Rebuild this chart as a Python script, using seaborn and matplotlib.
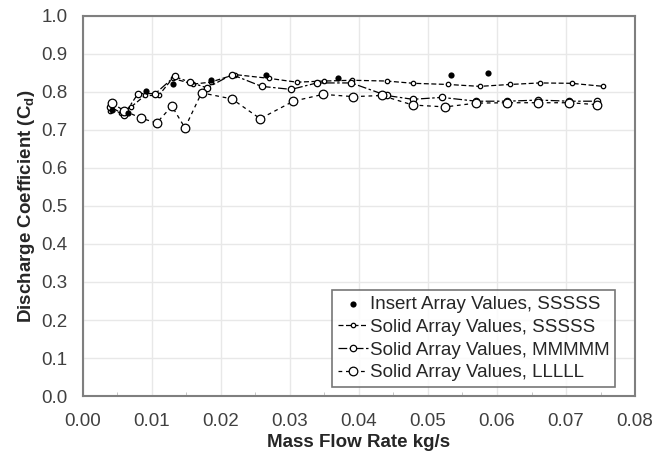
import matplotlib
matplotlib.use('Agg')
import matplotlib.pyplot as plt
import seaborn as sns
from matplotlib.ticker import MultipleLocator

# Insert array, SSSSS (filled dots, no line)
insert_x = [0.0042, 0.0066, 0.0092, 0.0131, 0.0186, 0.0266, 0.0370, 0.0534, 0.0587]
insert_y = [0.753, 0.745, 0.801, 0.819, 0.832, 0.843, 0.836, 0.845, 0.850]

# Solid array, SSSSS (small circles)
small_x = [0.0040, 0.0055, 0.0070, 0.0090, 0.0110, 0.0130, 0.0160, 0.0185, 0.0220, 0.0270,
           0.0310, 0.0350, 0.0390, 0.0440, 0.0479, 0.0529, 0.0575, 0.0619, 0.0662, 0.0708, 0.0754]
small_y = [0.750, 0.745, 0.760, 0.790, 0.790, 0.835, 0.820, 0.825, 0.845, 0.835,
           0.825, 0.828, 0.830, 0.828, 0.822, 0.819, 0.814, 0.819, 0.823, 0.822, 0.814]

# Solid array, MMMMM (medium circles)
med_x = [0.0040, 0.0060, 0.0080, 0.0105, 0.0133, 0.0155, 0.0180, 0.0216, 0.0259, 0.0302,
         0.0339, 0.0389, 0.0440, 0.0478, 0.0520, 0.0570, 0.0615, 0.0660, 0.0705, 0.0745]
med_y = [0.760, 0.740, 0.795, 0.795, 0.840, 0.825, 0.810, 0.845, 0.814, 0.806,
         0.823, 0.823, 0.790, 0.780, 0.785, 0.775, 0.775, 0.778, 0.775, 0.775]

# Solid array, LLLLL (large circles)
large_x = [0.0042, 0.0060, 0.0085, 0.0107, 0.0129, 0.0148, 0.0172, 0.0216, 0.0257, 0.0305,
           0.0348, 0.0392, 0.0433, 0.0478, 0.0525, 0.0570, 0.0615, 0.0660, 0.0705, 0.0745]
large_y = [0.770, 0.750, 0.730, 0.718, 0.762, 0.705, 0.797, 0.781, 0.729, 0.775,
           0.793, 0.787, 0.790, 0.765, 0.760, 0.770, 0.771, 0.771, 0.771, 0.766]

sns.set_style('whitegrid')
plt.rcParams['font.family'] = ['Liberation Sans', 'DejaVu Sans']

fig = plt.figure(figsize=(6.52, 4.58), dpi=100)
ax = fig.add_axes([0.127, 0.135, 0.847, 0.831])

sns.scatterplot(x=insert_x, y=insert_y, ax=ax, color='black', s=20, edgecolor='black',
                linewidth=0, label='Insert Array Values, SSSSS', zorder=5)
sns.lineplot(x=small_x, y=small_y, ax=ax, color='black', lw=0.9, marker='o', markersize=3.2,
             markerfacecolor='white', markeredgecolor='black', markeredgewidth=0.9,
             dashes=False, sort=False, label='Solid Array Values, SSSSS',
             linestyle=(0, (4, 2)))
sns.lineplot(x=med_x, y=med_y, ax=ax, color='black', lw=0.9, marker='o', markersize=4.6,
             markerfacecolor='white', markeredgecolor='black', markeredgewidth=0.9,
             dashes=False, sort=False, label='Solid Array Values, MMMMM',
             linestyle=(0, (7, 2, 2, 2)))
sns.lineplot(x=large_x, y=large_y, ax=ax, color='black', lw=0.9, marker='o', markersize=6.2,
             markerfacecolor='white', markeredgecolor='black', markeredgewidth=0.9,
             dashes=False, sort=False, label='Solid Array Values, LLLLL',
             linestyle=(0, (3, 3)))

ax.set_xlim(0, 0.08)
ax.set_ylim(0, 1.0)
ax.xaxis.set_major_locator(MultipleLocator(0.01))
ax.yaxis.set_major_locator(MultipleLocator(0.1))
ax.xaxis.set_minor_locator(MultipleLocator(0.005))
ax.set_xticklabels([f'{v:.2f}' for v in ax.get_xticks()])
ax.set_yticklabels([f'{v:.1f}' for v in ax.get_yticks()])
ax.tick_params(axis='both', labelsize=13.5, colors='#404040', length=0)
ax.tick_params(axis='x', pad=12)
ax.tick_params(axis='y', pad=11)
ax.tick_params(axis='x', which='minor', direction='in', length=3, color='#bbbbbb', bottom=True)
ax.grid(True, color='#e8e8e8', lw=1)
for sp in ax.spines.values():
    sp.set_color('#7f7f7f')
    sp.set_linewidth(1.5)

ax.set_xlabel('Mass Flow Rate kg/s', fontsize=13.5, fontweight='bold', color='#262626',
              labelpad=3)
ax.set_ylabel('Discharge Coefficient (C$_\\mathregular{d}$)', fontsize=13.5, fontweight='bold',
              color='#262626', labelpad=3)

leg = ax.legend(loc='lower right', bbox_to_anchor=(0.964, 0.024), fontsize=13.5, frameon=True,
                fancybox=False, edgecolor='#555555', handlelength=1.6, handletextpad=0.1,
                borderpad=0.3, labelspacing=0.3, borderaxespad=0)
leg.get_frame().set_linewidth(1.2)
for t in leg.get_texts():
    t.set_color('#262626')

fig.savefig('out.png', dpi=100)
